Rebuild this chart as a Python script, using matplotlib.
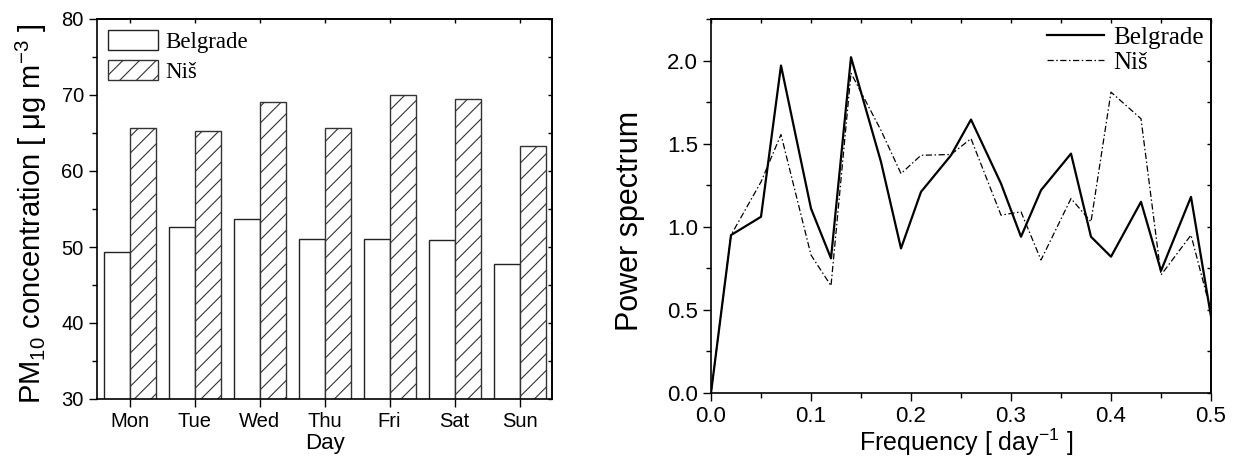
import matplotlib
matplotlib.use("Agg")
import matplotlib.pyplot as plt
from matplotlib.ticker import MultipleLocator, FormatStrFormatter, FixedLocator

plt.rcParams['font.family'] = ['Liberation Sans', 'DejaVu Sans']
plt.rcParams['mathtext.fontset'] = 'custom'
plt.rcParams['mathtext.rm'] = 'Liberation Sans'
plt.rcParams['mathtext.it'] = 'Liberation Sans:italic'
plt.rcParams['hatch.linewidth'] = 0.8

# weekly PM10 means
days = ['Mon', 'Tue', 'Wed', 'Thu', 'Fri', 'Sat', 'Sun']
belgrade = [49.4, 52.6, 53.7, 51.1, 51.0, 50.9, 47.8]
nis = [65.6, 65.2, 69.1, 65.7, 70.0, 69.5, 63.3]

# power spectrum
freq = [0.0, 0.02, 0.05, 0.07, 0.10, 0.12, 0.14, 0.17, 0.19, 0.21, 0.24,
        0.26, 0.29, 0.31, 0.33, 0.36, 0.38, 0.40, 0.43, 0.45, 0.48, 0.50]
ps_belgrade = [0.0, 0.95, 1.06, 1.97, 1.11, 0.81, 2.02, 1.39, 0.87, 1.21, 1.43,
               1.645, 1.26, 0.94, 1.22, 1.44, 0.94, 0.82, 1.15, 0.735, 1.18, 0.46]
ps_nis = [0.0, 0.95, 1.27, 1.555, 0.83, 0.645, 1.925, 1.58, 1.32, 1.43, 1.435,
          1.53, 1.07, 1.09, 0.80, 1.17, 1.03, 1.81, 1.65, 0.71, 0.95, 0.49]

fig = plt.figure(figsize=(12.37, 4.61), dpi=100)
ax1 = fig.add_axes([97 / 1237, 62 / 461, 455 / 1237, 380 / 461])
ax2 = fig.add_axes([711 / 1237, 68 / 461, 500 / 1237, 374 / 461])

# ---- left: bar chart
w = 0.4
x = list(range(len(days)))
ax1.bar([i - w / 2 for i in x], belgrade, w, color='white', edgecolor='#222222',
        linewidth=1, label='Belgrade')
ax1.bar([i + w / 2 for i in x], nis, w, color='white', edgecolor='#333333',
        linewidth=1, hatch='//', label='Niš')
ax1.set_xlim(-0.5, 6.5)
ax1.set_ylim(30, 80)
ax1.set_xticks(x)
ax1.set_xticklabels(days)
ax1.yaxis.set_major_locator(MultipleLocator(10))
ax1.yaxis.set_minor_locator(MultipleLocator(5))
ax1.tick_params(axis='both', which='major', labelsize=14.5, length=6, width=1, direction='out')
ax1.tick_params(axis='y', which='minor', length=3.5, width=1, direction='out')
ax1.set_xlabel('Day', fontsize=16)
ax1.xaxis.set_label_coords(0.5, -0.09)
ax1.set_ylabel('PM$_{10}$ concentration [ μg m$^{-3}$ ]', fontsize=21)
ax1.yaxis.set_label_coords(-0.105, 0.487)
ax1.legend(loc='upper left', frameon=False,
           prop={'family': 'Liberation Serif', 'size': 16.5}, handlelength=2.15,
           handleheight=0.95, handletextpad=0.35, labelspacing=0.3,
           borderpad=0.3, borderaxespad=0.2)

top1 = ax1.secondary_xaxis('top')
top1.xaxis.set_major_locator(FixedLocator(x))
top1.tick_params(direction='in', length=3, labeltop=False, width=1)
right1 = ax1.secondary_yaxis('right')
right1.yaxis.set_major_locator(MultipleLocator(5))
right1.tick_params(direction='in', length=3, labelright=False, width=1)

# ---- right: power spectrum
ax2.plot(freq, ps_belgrade, color='black', linewidth=1.6, label='Belgrade')
ax2.plot(freq, ps_nis, color='black', linewidth=0.9, dashes=(5, 2, 1.2, 2), label='Niš')
ax2.set_xlim(0, 0.5)
ax2.set_ylim(0, 2.25)
ax2.xaxis.set_major_locator(MultipleLocator(0.1))
ax2.xaxis.set_minor_locator(MultipleLocator(0.05))
ax2.yaxis.set_major_locator(MultipleLocator(0.5))
ax2.yaxis.set_minor_locator(MultipleLocator(0.25))
ax2.xaxis.set_major_formatter(FormatStrFormatter('%.1f'))
ax2.yaxis.set_major_formatter(FormatStrFormatter('%.1f'))
ax2.tick_params(axis='both', which='major', labelsize=16, length=6, width=1, direction='out')
ax2.tick_params(axis='both', which='minor', length=3.5, width=1, direction='out')
ax2.set_xlabel('Frequency [ day$^{-1}$ ]', fontsize=18)
ax2.xaxis.set_label_coords(0.51, -0.09)
ax2.set_ylabel('Power spectrum', fontsize=22)
ax2.yaxis.set_label_coords(-0.132, 0.46)
ax2.legend(loc='upper right', frameon=False,
           prop={'family': 'Liberation Serif', 'size': 18}, handlelength=2.3,
           handletextpad=0.35, labelspacing=0.1, borderpad=0.2, borderaxespad=0.1)

top2 = ax2.secondary_xaxis('top')
top2.xaxis.set_major_locator(MultipleLocator(0.05))
top2.tick_params(direction='in', length=3, labeltop=False, width=1)
right2 = ax2.secondary_yaxis('right')
right2.yaxis.set_major_locator(MultipleLocator(0.25))
right2.tick_params(direction='in', length=3, labelright=False, width=1)

for a in (ax1, ax2, top1, right1, top2, right2):
    for s in a.spines.values():
        s.set_linewidth(1.2)

fig.savefig('out.png', dpi=100)
